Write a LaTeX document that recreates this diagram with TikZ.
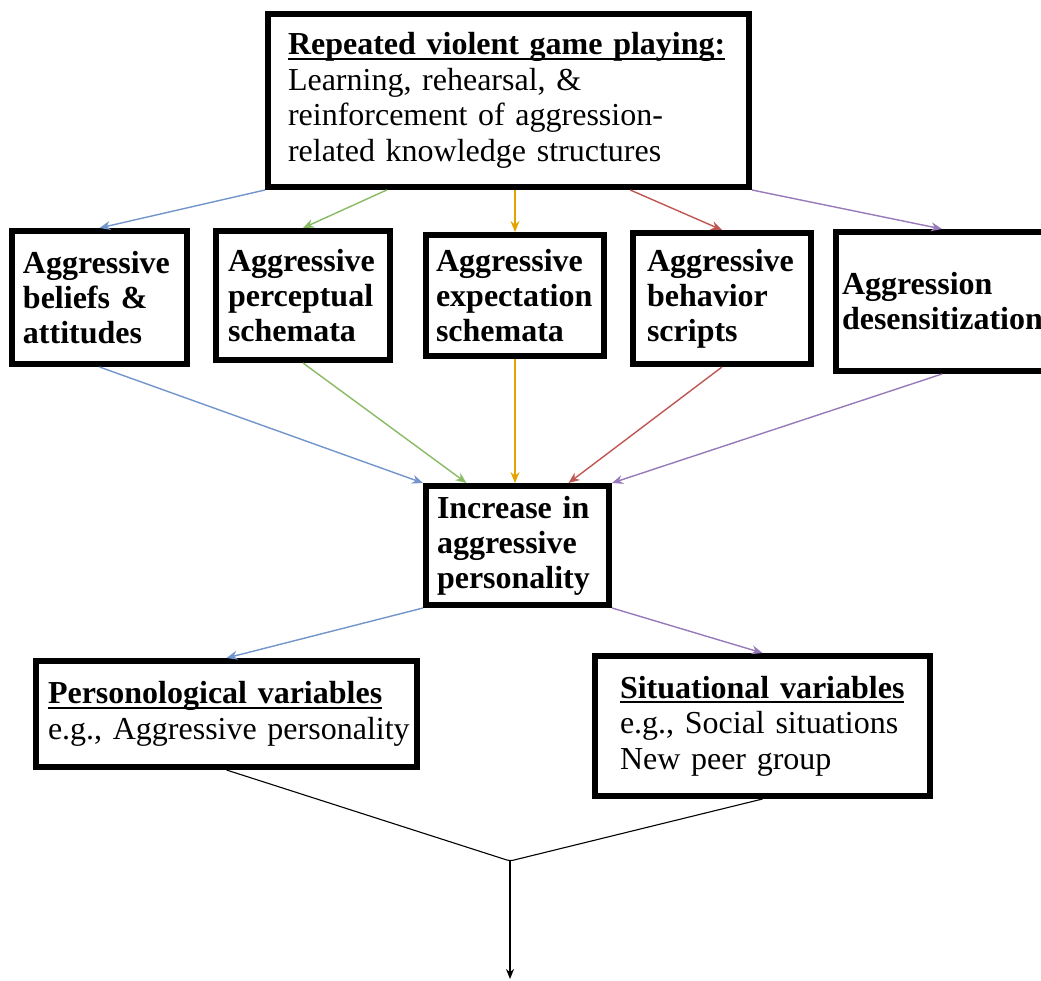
\documentclass[tikz,border=0pt]{standalone}
\usepackage{fontspec}
\setmainfont[WordSpace=0.9]{Liberation Serif}
\usetikzlibrary{arrows, arrows.meta, positioning, calc}
\definecolor{lblue}{RGB}{114,149,203}
\definecolor{lgreen}{RGB}{137,186,100}
\definecolor{lgold}{RGB}{228,163,0}
\definecolor{lred}{RGB}{192,86,82}
\definecolor{lpurple}{RGB}{152,122,186}
\hyphenpenalty=10000
\exhyphenpenalty=10000
\newcommand{\ulhead}[1]{\setbox0\hbox{\bfseries #1}\rlap{\rule[-5pt]{\wd0}{1.8pt}}\box0}
\tikzstyle{block} = [draw, line width=6pt, rectangle, align=left, inner ysep=0pt, font=\fontsize{32}{35.5}\selectfont]
\tikzstyle{bblock} = [block, font=\fontsize{32}{35}\selectfont\bfseries]
\tikzstyle{link} = [line width=1.4pt,-{Stealth[length=11pt,width=9pt]}]
\tikzstyle{merge} = [line width=1.1pt, rounded corners=3pt]
\tikzstyle{outlink} = [line width=1.1pt,-{Stealth[length=10pt,width=8pt]}]

\begin{document}
\begin{tikzpicture}[x=1pt,y=-1pt]
      \useasboundingbox (0,0) rectangle (1041,981);
      \node (top) [block, minimum width=481, minimum height=173, text width=441, inner xsep=20] at (508.5,100.5)
        {\ulhead{Repeated violent game playing:}\\Learning, rehearsal, \&\\reinforcement of aggression-\\related knowledge structures};
      \node (b1) [bblock, minimum width=175, minimum height=133, text width=153, inner xsep=11] at (99.5,297.5)
        {Aggressive\\beliefs \&\\attitudes};
      \node (b2) [bblock, minimum width=174, minimum height=129, text width=150, inner xsep=12] at (303,295.5)
        {Aggressive\\perceptual\\schemata};
      \node (b3) [bblock, minimum width=178, minimum height=121, text width=158, inner xsep=10] at (515,295.5)
        {Aggressive\\expectation\\schemata};
      \node (b4) [bblock, minimum width=178, minimum height=131, text width=150, inner xsep=14] at (722,298.5)
        {Aggressive\\behavior\\scripts};
      \node (b5) [bblock, minimum width=212, minimum height=139, text width=200, inner xsep=6] at (942,301.5)
        {Aggression\\\mbox{desensitization}\\[10pt]};
      \node (inc) [bblock, minimum width=183, minimum height=119, text width=161, inner xsep=11] at (517.5,545.5)
        {Increase in\\aggressive\\personality};
      \node (pers) [block, minimum width=381, minimum height=106, text width=357, inner xsep=12] at (226.5,714)
        {\ulhead{Personological variables}\\\mbox{e.g., Aggressive personality}\\[8pt]};
      \node (sit) [block, minimum width=335, minimum height=140, text width=285, inner xsep=25] at (762.5,726)
        {\ulhead{Situational variables}\\e.g., Social situations\\New peer group};
      \coordinate (junc) at (510,861);
      \coordinate (tail) at (510,979);
      % first level
      \draw [link, lblue] (top.south west) -- (b1.north);
      \draw [link, lgreen] ($(top.south west)!0.25!(top.south east)$) -- (b2.north);
      \draw [link, lgold] (b3.north |- top.south) -- (b3.north);
      \draw [link, lred] ($(top.south west)!0.75!(top.south east)$) -- (b4.north);
      \draw [link, lpurple] (top.south east) -- (b5.north);
      % second level
      \draw [link, lblue] (b1.south) -- (inc.north west);
      \draw [link, lgreen] (b2.south) -- ($(inc.north west)!0.23!(inc.north east)$);
      \draw [link, lgold] (b3.south) -- (b3.south |- inc.north);
      \draw [link, lred] (b4.south) -- ($(inc.north west)!0.77!(inc.north east)$);
      \draw [link, lpurple] (b5.south) -- (inc.north east);
      % third level
      \draw [link, lblue] (inc.south west) -- (pers.north);
      \draw [link, lpurple] (inc.south east) -- (sit.north);
      \draw [merge] (pers.south) -- (junc) -- (sit.south);
      \draw [outlink] (junc) -- (tail);
\end{tikzpicture}
\end{document}
